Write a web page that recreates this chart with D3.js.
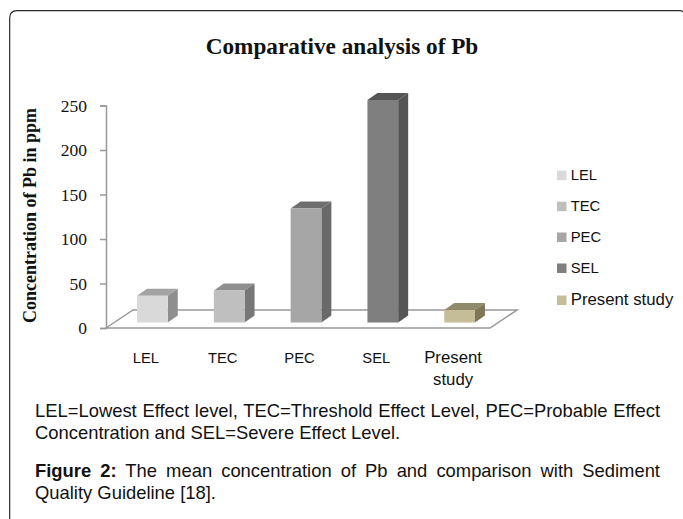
<!DOCTYPE html>
<html>
<head>
<meta charset="utf-8">
<script src="https://cdn.jsdelivr.net/npm/d3@7"></script>
<style>
html, body { margin: 0; padding: 0; background: #fff; }
svg { display: block; }
</style>
</head>
<body>
<svg id="chart" width="683" height="519"></svg>
<script>
// values
const categories = ["LEL", "TEC", "PEC", "SEL", "Present study"];
const values = [30, 36, 128, 250, 14];
const yTicks = [0, 50, 100, 150, 200, 250];
const frontColors = ["#d9d9d9", "#bfbfbf", "#a6a6a6", "#7f7f7f", "#c4bd97"];
const topColors = ["#a3a3a3", "#8f8f8f", "#6f6f6f", "#555555", "#8f8a6c"];
const sideColors = ["#8e8e8e", "#777777", "#696969", "#555555", "#7d7757"];
const legendY = [175.7, 206.7, 237.5, 268.5, 300.5];
const captionLine1 = "LEL=Lowest Effect level, TEC=Threshold Effect Level, PEC=Probable Effect";
const captionLine2 = "Concentration and SEL=Severe Effect Level.";
const figureLabel = "Figure 2:";
const figureLine1 = " The mean concentration of Pb and comparison with Sediment";
const figureLine2 = "Quality Guideline [18].";

const svg = d3.select("#chart");
const sans = "'Liberation Sans', Arial, sans-serif";
const serif = "'Liberation Serif', 'Times New Roman', serif";

// rounded frame, open at the bottom
svg.append("path")
   .attr("d", "M9.7,519 V18 Q9.7,10.7 17,10.7 H680 Q682,10.7 684,12.5")
   .attr("fill", "none")
   .attr("stroke", "#2a2a2a")
   .attr("stroke-width", 1.2);

svg.append("text")
   .attr("x", 342).attr("y", 54)
   .attr("text-anchor", "middle")
   .attr("font-family", serif)
   .attr("font-weight", "bold")
   .attr("font-size", 23.2)
   .attr("fill", "#111")
   .text("Comparative analysis of Pb");

let y = d3.scaleLinear().domain([0, 250]).range([328, 105.5]);
let x = d3.scaleBand().domain(categories).range([114, 498]).paddingInner(0.6).paddingOuter(0.3);

const depthX = 10, depthY = 7, lift = 5.5;
const floorX0 = 106, floorX1 = 490, floorShiftX = 27, floorShiftY = 18;

// floor of the 3d plot
svg.append("path")
   .attr("d", `M${floorX0},${y(0)} L${floorX0 + floorShiftX},${y(0) - floorShiftY} H${floorX1 + floorShiftX} L${floorX1},${y(0)} Z`)
   .attr("fill", "#fff")
   .attr("stroke", "#999")
   .attr("stroke-width", 1.5);

let yAxis = svg.append("g")
   .attr("transform", `translate(${floorX0},0)`)
   .call(d3.axisLeft(y).tickValues(yTicks).tickSize(6).tickPadding(13));
yAxis.selectAll("path, line").attr("stroke", "#999").attr("stroke-width", 1.5);
yAxis.selectAll("text")
     .attr("font-family", serif)
     .attr("font-size", 17.5)
     .attr("fill", "#111");

svg.append("text")
   .attr("transform", "translate(36,215.5) rotate(-90)")
   .attr("text-anchor", "middle")
   .attr("font-family", serif)
   .attr("font-weight", "bold")
   .attr("font-size", 18)
   .attr("fill", "#111")
   .text("Concentration of Pb in ppm");

const bars = svg.selectAll(".bar")
   .data(categories)
   .enter()
   .append("g")
   .attr("class", "bar");

const bw = x.bandwidth();
bars.append("path") // top
    .attr("fill", (d, i) => topColors[i])
    .attr("d", (d, i) => {
      let x0 = x(d), t = y(values[i]) - lift;
      return `M${x0},${t} l${depthX},${-depthY} h${bw} l${-depthX},${depthY} Z`;
    });
bars.append("path") // side
    .attr("fill", (d, i) => sideColors[i])
    .attr("d", (d, i) => {
      let x1 = x(d) + bw, t = y(values[i]) - lift, b = y(0) - lift;
      return `M${x1},${t} l${depthX},${-depthY} V${b - depthY} L${x1},${b} Z`;
    });
bars.append("rect") // front
    .attr("fill", (d, i) => frontColors[i])
    .attr("x", d => x(d))
    .attr("y", (d, i) => y(values[i]) - lift)
    .attr("width", bw)
    .attr("height", (d, i) => y(0) - y(values[i]));

// the two word label was set larger than the others in the original
const labelSize = d => d.includes(" ") ? 16.8 : 14.8;

// category labels, the last one wraps
const catLabels = svg.selectAll(".cat")
   .data(categories)
   .enter()
   .append("text")
   .attr("class", "cat")
   .attr("text-anchor", "middle")
   .attr("font-family", sans)
   .attr("font-size", labelSize)
   .attr("fill", "#111");
catLabels.each(function(d) {
  let el = d3.select(this);
  let cx = x(d) + bw / 2 - 6.5;
  d.split(" ").forEach((w, k) => {
    el.append("tspan").attr("x", cx).attr("y", 363 + k * 22).text(w);
  });
});

// legend
const legend = svg.selectAll(".legend")
   .data(categories)
   .enter()
   .append("g")
   .attr("class", "legend")
   .attr("transform", (d, i) => `translate(557,${legendY[i]})`);
legend.append("rect")
      .attr("x", 0).attr("y", -5)
      .attr("width", 9.5).attr("height", 9.5)
      .attr("fill", (d, i) => frontColors[i]);
legend.append("text")
      .attr("x", 13.7).attr("y", 4)
      .attr("font-family", sans)
      .attr("font-size", labelSize)
      .attr("fill", "#111")
      .text(d => d);

// caption
const capSize = 18.4, capX = 35, capWidth = 625;
function captionText(yPos) {
  return svg.append("text")
     .attr("x", capX).attr("y", yPos)
     .attr("font-family", sans)
     .attr("font-size", capSize)
     .attr("fill", "#111");
}
// stretch the spaces so the line ends on the right margin, like justified text
function justify(sel, str) {
  let gaps = str.trim().split(" ").length - 1;
  let extra = (capWidth - sel.node().getComputedTextLength()) / gaps;
  sel.attr("word-spacing", extra);
}

let l1 = captionText(417).text(captionLine1);
justify(l1, captionLine1);
captionText(439).text(captionLine2);

let fig = captionText(477);
fig.append("tspan").attr("font-weight", "bold").text(figureLabel);
fig.append("tspan").text(figureLine1);
justify(fig, figureLabel + figureLine1);
captionText(499).text(figureLine2);
</script>
</body>
</html>
